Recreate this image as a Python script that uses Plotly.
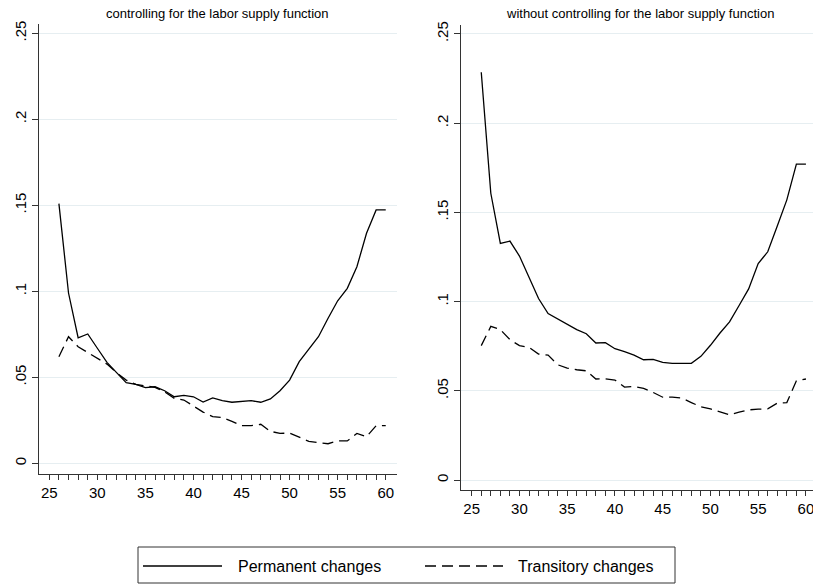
import plotly.graph_objects as go

ages = list(range(26, 61))

# Left panel: controlling for the labor supply function
left_permanent = [0.151, 0.099, 0.073, 0.0752, 0.0669, 0.0587, 0.0527, 0.0469, 0.0459, 0.044,
                  0.0445, 0.0422, 0.0387, 0.0395, 0.0387, 0.0356, 0.038, 0.0364, 0.0355, 0.036,
                  0.0364, 0.0355, 0.0374, 0.0422, 0.0484, 0.0591, 0.0665, 0.0736, 0.0843, 0.0945,
                  0.1017, 0.1143, 0.1337, 0.1473, 0.1473]
left_transitory = [0.062, 0.0736, 0.0678, 0.0645, 0.061, 0.0577, 0.0527, 0.0484, 0.0459, 0.0449,
                   0.0442, 0.0416, 0.0378, 0.0368, 0.0335, 0.0298, 0.0271, 0.0267, 0.0244, 0.0219,
                   0.0219, 0.0227, 0.0186, 0.0174, 0.0176, 0.0151, 0.0128, 0.012, 0.0114, 0.013,
                   0.013, 0.0174, 0.0155, 0.0219, 0.0219]

# Right panel: without controlling for the labor supply function
right_permanent = [0.2285, 0.1607, 0.1326, 0.1339, 0.1255, 0.1139, 0.1017, 0.0933, 0.0903, 0.0869,
                   0.0843, 0.082, 0.0768, 0.077, 0.0736, 0.0719, 0.07, 0.0674, 0.0676, 0.0659,
                   0.0654, 0.0654, 0.0654, 0.0693, 0.0755, 0.0824, 0.0886, 0.0978, 0.1071, 0.1213,
                   0.1279, 0.1423, 0.157, 0.177, 0.177]
right_transitory = [0.0753, 0.0861, 0.0843, 0.0787, 0.0753, 0.0743, 0.0706, 0.07, 0.0646, 0.0627,
                    0.0618, 0.0612, 0.0566, 0.0567, 0.056, 0.0521, 0.0524, 0.0513, 0.0491, 0.0464,
                    0.0464, 0.0459, 0.0434, 0.041, 0.0399, 0.0384, 0.0365, 0.038, 0.0393, 0.0397,
                    0.0399, 0.0431, 0.0434, 0.0556, 0.0566]

titles = ["controlling for the labor supply function",
          "without controlling for the labor supply function"]
series_names = ["Permanent changes", "Transitory changes"]

x_tickvals = list(range(25, 61))
x_ticktext = [str(v) if v % 5 == 0 else "" for v in x_tickvals]
y_tickvals = [0, 0.05, 0.1, 0.15, 0.2, 0.25]
y_ticktext = ["0", ".05", ".1", ".15", ".2", ".25"]

W, H = 813, 585
FONT = "Liberation Sans, Arial, sans-serif"
DASH = "11px,6px"

fig = go.Figure()

fig.add_trace(go.Scatter(x=ages, y=left_permanent, mode="lines", name=series_names[0],
                         line=dict(color="black", width=1.3), xaxis="x", yaxis="y", showlegend=False))
fig.add_trace(go.Scatter(x=ages, y=left_transitory, mode="lines", name=series_names[1],
                         line=dict(color="black", width=1.3, dash=DASH), xaxis="x", yaxis="y", showlegend=False))
fig.add_trace(go.Scatter(x=ages, y=right_permanent, mode="lines", name=series_names[0],
                         line=dict(color="black", width=1.3), xaxis="x2", yaxis="y2", showlegend=False))
fig.add_trace(go.Scatter(x=ages, y=right_transitory, mode="lines", name=series_names[1],
                         line=dict(color="black", width=1.3, dash=DASH), xaxis="x2", yaxis="y2", showlegend=False))

def px_x(p):
    return p / W

def px_y(p):
    return 1 - p / H

common_x = dict(tickmode="array", tickvals=x_tickvals, ticktext=x_ticktext, ticks="outside",
                ticklen=5, tickwidth=1, tickcolor="#333", showline=True, linecolor="#333",
                linewidth=1, showgrid=False, zeroline=False, automargin=False,
                ticklabeloverflow="allow",
                tickfont=dict(family=FONT, size=15, color="black"))
common_y = dict(tickmode="array", tickvals=y_tickvals, ticktext=y_ticktext, ticks="outside",
                ticklen=6, tickwidth=1, tickcolor="#333", showline=True, linecolor="#333",
                linewidth=1, showgrid=True, gridcolor="#e6eef1", gridwidth=1, zeroline=False,
                automargin=False, tickangle=-90, ticklabeloverflow="allow",
                tickfont=dict(family=FONT, size=15, color="black"))

fig.update_layout(
    width=W, height=H,
    margin=dict(l=0, r=0, t=0, b=0),
    paper_bgcolor="white", plot_bgcolor="white",
    showlegend=False,
    xaxis=dict(domain=[px_x(39.3), px_x(396.7)], range=[23.96, 61.14], anchor="y", **common_x),
    yaxis=dict(domain=[px_y(474), px_y(24.3)], range=[-0.0062, 0.2552], anchor="x", **common_y),
    xaxis2=dict(domain=[px_x(461.3), 1.0], range=[23.91, 60.74], anchor="y2", **common_x),
    yaxis2=dict(domain=[px_y(490), px_y(25)], range=[-0.0056, 0.255], anchor="x2", **common_y),
)

# Panel titles
fig.add_annotation(text=titles[0], x=px_x(218), y=px_y(13), xref="paper", yref="paper",
                   showarrow=False, font=dict(family=FONT, size=13, color="black"),
                   xanchor="center", yanchor="middle")
fig.add_annotation(text=titles[1], x=px_x(640), y=px_y(13), xref="paper", yref="paper",
                   showarrow=False, font=dict(family=FONT, size=13, color="black"),
                   xanchor="center", yanchor="middle")

# Legend box (drawn manually to match Stata's wide keys)
fig.add_shape(type="rect", xref="paper", yref="paper",
              x0=px_x(138), x1=px_x(675), y0=px_y(583), y1=px_y(547),
              line=dict(color="#333", width=1), fillcolor="rgba(0,0,0,0)")
ly = px_y(566)
fig.add_shape(type="line", xref="paper", yref="paper", x0=px_x(143), x1=px_x(222), y0=ly, y1=ly,
              line=dict(color="black", width=1.3))
fig.add_shape(type="line", xref="paper", yref="paper", x0=px_x(425), x1=px_x(503), y0=ly, y1=ly,
              line=dict(color="black", width=1.3, dash=DASH))
fig.add_annotation(text=series_names[0], x=px_x(236), y=ly, xref="paper", yref="paper",
                   showarrow=False, xanchor="left", yanchor="middle",
                   font=dict(family=FONT, size=16, color="black"))
fig.add_annotation(text=series_names[1], x=px_x(516), y=ly, xref="paper", yref="paper",
                   showarrow=False, xanchor="left", yanchor="middle",
                   font=dict(family=FONT, size=16, color="black"))

fig.write_html("out.html", config={"displayModeBar": False},
               post_script="document.body.style.margin='0';document.body.style.overflow='hidden';")
